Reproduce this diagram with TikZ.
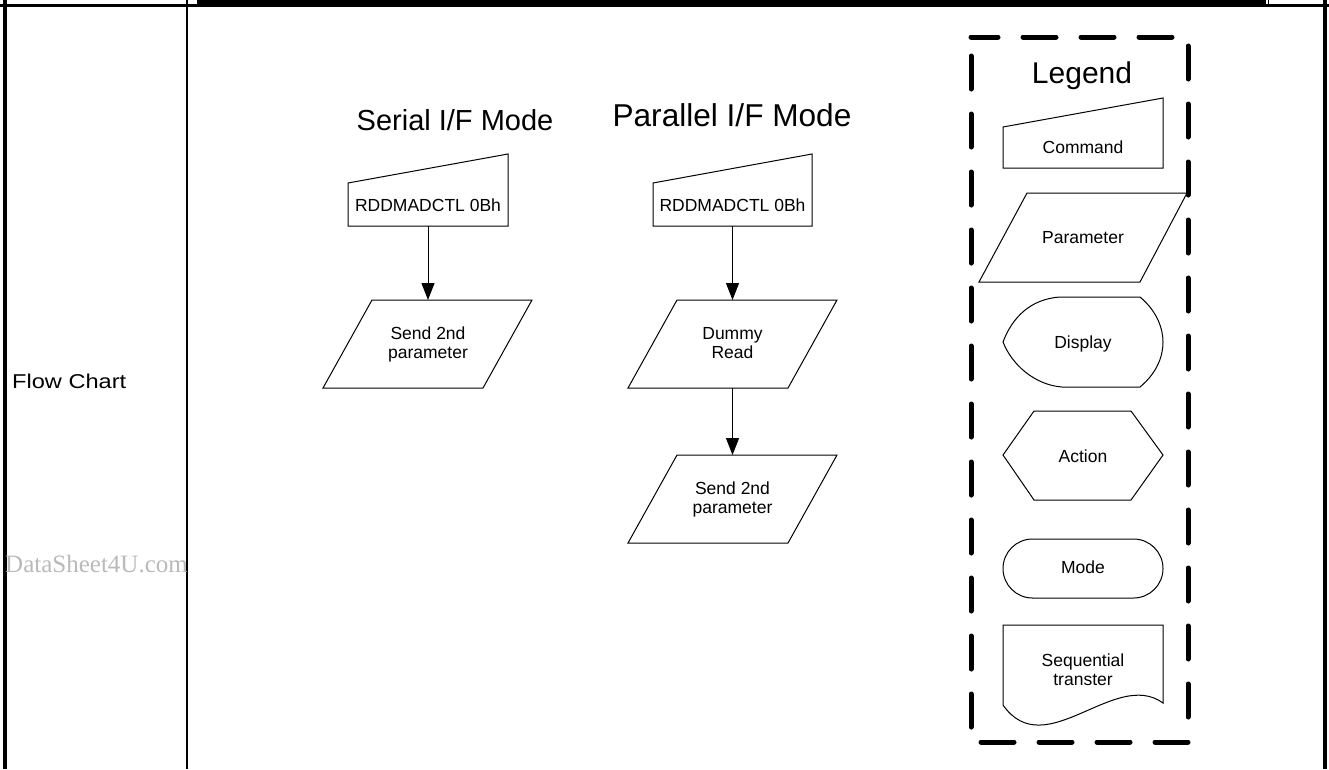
\documentclass[tikz,border=0pt]{standalone}
\usepackage{fontspec}
\setmainfont{Liberation Sans}
\newfontfamily\wmfont{Liberation Serif}
\usetikzlibrary{arrows.meta}
\begin{document}
\begin{tikzpicture}[x=1pt,y=-1pt,
  frame/.style={line width=#1, draw=black},
  shp/.style={draw=black, line width=1pt, fill=white, line join=miter},
  lbl/.style={font=\fontsize{17.5}{19}\selectfont, align=center, inner sep=0pt},
  ttl/.style={font=\fontsize{30}{32}\selectfont, inner sep=0pt, anchor=base},
  flow/.style={line width=1pt, -{Triangle[width=13pt,length=17pt]}},
  legendbox/.style={line width=5pt, line cap=round, dash pattern=on 33pt off 25pt, dash phase=6pt}
]
\useasboundingbox (0,0) rectangle (1329,769);
\fill[white] (0,0) rectangle (1329,769);

% table frame
\draw[frame=2.3pt] (0,5.6) -- (1329,5.6);
\draw[frame=4pt] (4.7,0) -- (4.7,769);
\draw[frame=2pt] (187,0) -- (187,769);
\draw[frame=4pt] (1324.5,0) -- (1324.5,769);
\fill[black] (197,0) rectangle (1266,5.6);
\draw[frame=1pt] (1268,0) -- (1268,5.6);
\draw[frame=1pt] (691,0) -- (691,1);

% left column
\node[anchor=base west, inner sep=0pt, font=\fontsize{20}{22}\selectfont] (fc) at (12,388) {\scalebox{1.18}[1]{Flow Chart}};
\node[anchor=base west, inner sep=0pt, text=black!27, font=\wmfont\fontsize{25}{27}\selectfont] (wm) at (5,572) {DataSheet4U.com};

% titles
\node[ttl, font=\fontsize{29}{31}\selectfont] (tser) at (455,130) {Serial I/F Mode};
\node[ttl, font=\fontsize{31.6}{33}\selectfont] (tpar) at (732,126) {Parallel I/F Mode};

% ---- Serial column ----
\draw[shp] (348,183) -- (508,154) -- (508,226) -- (348,226) -- cycle;
\node[lbl, anchor=base] (s1) at (428,211) {RDDMADCTL 0Bh};
\coordinate (s1b) at (428,226);
\draw[shp] (372,300) -- (532,300) -- (483,388) -- (323,388) -- cycle;
\node[lbl] (s2) at (428,344) {Send 2nd\\parameter};
\coordinate (s2t) at (428,300);
\draw[flow] (s1b) -- (s2t);

% ---- Parallel column ----
\draw[shp] (653,183) -- (812,154) -- (812,226) -- (653,226) -- cycle;
\node[lbl, anchor=base] (p1) at (732.5,211) {RDDMADCTL 0Bh};
\coordinate (p1b) at (732.5,226);
\draw[shp] (677,300) -- (837,300) -- (788,388) -- (628,388) -- cycle;
\node[lbl] (p2) at (732.5,343.5) {Dummy\\Read};
\coordinate (p2t) at (732.5,300);
\coordinate (p2b) at (732.5,388);
\draw[shp] (677,455) -- (837,455) -- (788,543) -- (628,543) -- cycle;
\node[lbl] (p3) at (732.5,499) {Send 2nd\\parameter};
\coordinate (p3t) at (732.5,455);
\draw[flow] (p1b) -- (p2t);
\draw[flow] (p2b) -- (p3t);

% ---- Legend ----
\draw[legendbox] (971,37) -- (1188,37) -- (1188,742) -- (971,742) -- cycle;
\node[ttl] (lg) at (1082,83) {Legend};

\draw[shp] (1003,127) -- (1163,98) -- (1163,168) -- (1003,168) -- cycle;
\node[lbl, anchor=base] (lcmd) at (1083,153) {Command};

\draw[shp] (1027,193) -- (1187,193) -- (1140,282) -- (979,282) -- cycle;
\node[lbl, anchor=base] (lpar) at (1083,243) {Parameter};

\draw[shp] (1060,297) -- (1140,297)
  .. controls (1158,312) and (1163,330) .. (1163,342)
  .. controls (1163,355) and (1158,372) .. (1140,387)
  -- (1062,387)
  .. controls (1035,385) and (1012,365) .. (1003,342)
  .. controls (1012,318) and (1030,299) .. (1060,297) -- cycle;
\node[lbl, anchor=base] (ldis) at (1083,348) {Display};

\draw[shp] (1034,411) -- (1131,411) -- (1163,455) -- (1131,500) -- (1034,500) -- (1003,455) -- cycle;
\node[lbl, anchor=base] (lact) at (1083,462) {Action};

\draw[shp, rounded corners=29.5pt] (1003,539) rectangle (1163,598);
\node[lbl, anchor=base] (lmod) at (1083,573) {Mode};

\draw[shp] (1003,705) -- (1003,625) -- (1163,625) -- (1163,703)
  .. controls (1115,668) and (1045,765) .. (1003,705) -- cycle;
\node[lbl] (lseq) at (1083,670) {Sequential\\transter};
\end{tikzpicture}
\end{document}
